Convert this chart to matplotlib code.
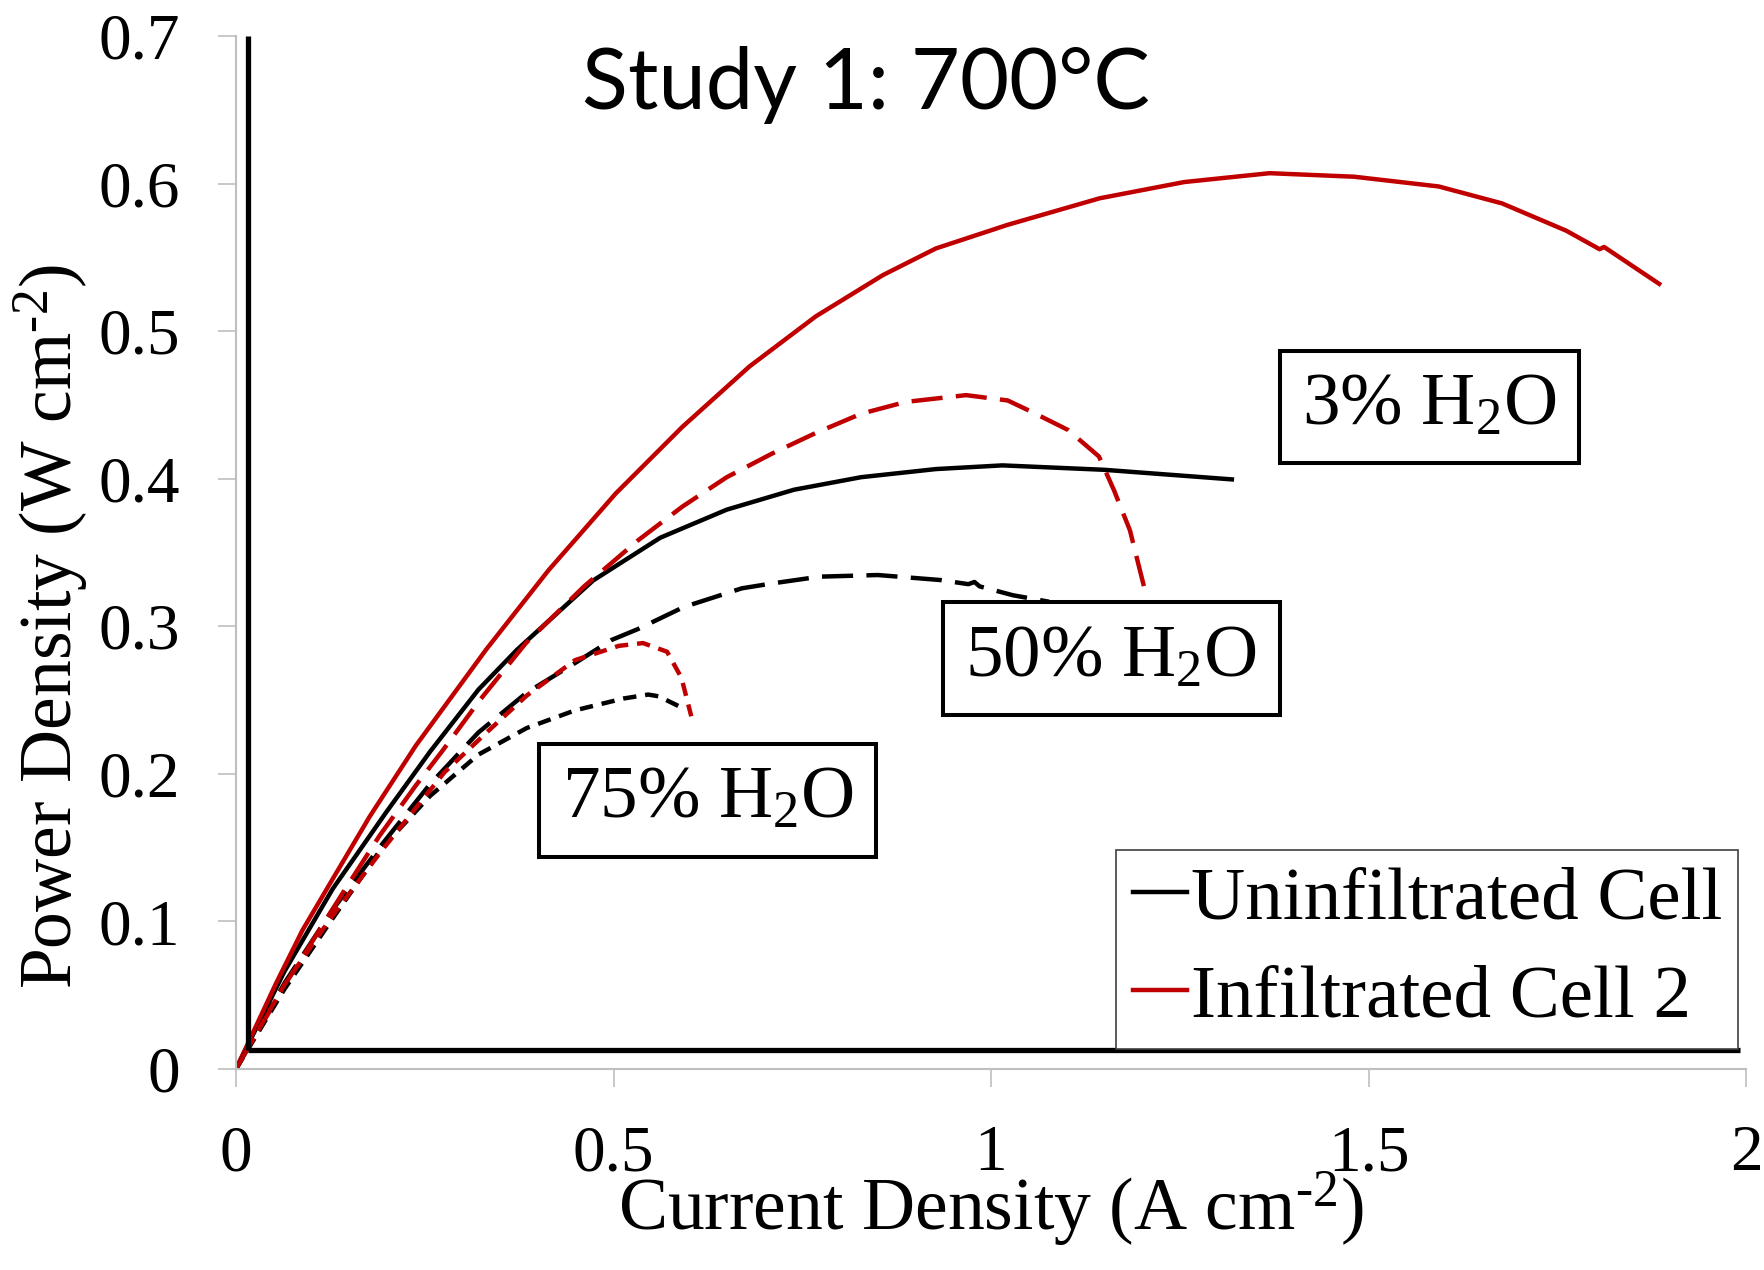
import matplotlib
matplotlib.use("Agg")
import matplotlib.pyplot as plt

plt.rcParams["font.family"] = ["Liberation Serif", "DejaVu Serif"]
plt.rcParams["mathtext.fontset"] = "custom"
plt.rcParams["mathtext.rm"] = "Liberation Serif"
plt.rcParams["mathtext.it"] = "Liberation Serif:italic"

RED = "#C00000"
GRAY = "#BFBFBF"

# ── data ──
# 3% H2O
inf_3_x = [0, 0.053, 0.088, 0.1325, 0.177, 0.238, 0.331, 0.414, 0.503, 0.591, 0.680, 0.768,
           0.857, 0.927, 1.022, 1.144, 1.256, 1.369, 1.481, 1.593, 1.677, 1.762, 1.806,
           1.812, 1.885]
inf_3_y = [0, 0.058, 0.094, 0.1326, 0.171, 0.219, 0.284, 0.338, 0.390, 0.435, 0.476, 0.510,
           0.538, 0.556, 0.572, 0.590, 0.601, 0.607, 0.6046, 0.598, 0.5865, 0.568, 0.5555,
           0.557, 0.532]
uninf_3_x = [0, 0.064, 0.128, 0.199, 0.257, 0.321, 0.372, 0.473, 0.562, 0.650, 0.739,
             0.828, 0.927, 1.015, 1.150, 1.319]
uninf_3_y = [0, 0.066, 0.122, 0.174, 0.215, 0.257, 0.284, 0.331, 0.360, 0.379, 0.3925,
             0.401, 0.4065, 0.409, 0.406, 0.3995]

# 50% H2O
inf_50_x = [0, 0.066, 0.146, 0.190, 0.238, 0.274, 0.323, 0.384, 0.461, 0.532, 0.591, 0.650,
            0.710, 0.768, 0.828, 0.887, 0.967, 1.022, 1.055, 1.102, 1.143, 1.163, 1.184,
            1.205]
inf_50_y = [0, 0.058, 0.123, 0.158, 0.192, 0.216, 0.250, 0.2886, 0.327, 0.358, 0.381, 0.401,
            0.417, 0.431, 0.444, 0.452, 0.4566, 0.453, 0.445, 0.433, 0.415, 0.392, 0.365,
            0.322]
uninf_50_x = [0, 0.064, 0.128, 0.193, 0.257, 0.321, 0.385, 0.452, 0.497, 0.532, 0.593,
              0.670, 0.710, 0.773, 0.850, 0.933, 0.970, 0.978, 0.985, 1.029, 1.077]
uninf_50_y = [0, 0.058, 0.108, 0.152, 0.193, 0.228, 0.255, 0.276, 0.2906, 0.298, 0.313,
              0.3257, 0.329, 0.3336, 0.3347, 0.3313, 0.3285, 0.330, 0.327, 0.321, 0.3166]

# 75% H2O
inf_75_x = [0, 0.064, 0.128, 0.193, 0.276, 0.334, 0.385, 0.449, 0.507, 0.539, 0.571,
            0.590, 0.603]
inf_75_y = [0, 0.057, 0.104, 0.148, 0.201, 0.229, 0.253, 0.277, 0.2867, 0.2886, 0.2827,
            0.265, 0.239]
uninf_75_x = [0, 0.064, 0.128, 0.193, 0.257, 0.321, 0.385, 0.449, 0.513, 0.546, 0.560,
              0.571, 0.587]
uninf_75_y = [0, 0.054, 0.102, 0.1497, 0.185, 0.213, 0.231, 0.243, 0.251, 0.2537, 0.2525,
              0.2497, 0.2457]

x_ticks = [0, 0.5, 1, 1.5, 2]
x_tick_labels = ["0", "0.5", "1", "1.5", "2"]
y_ticks = [0, 0.1, 0.2, 0.3, 0.4, 0.5, 0.6, 0.7]
y_tick_labels = ["0", "0.1", "0.2", "0.3", "0.4", "0.5", "0.6", "0.7"]

labels = [
    ("3% H$_\\mathregular{2}$O", 1.581, 0.4485),
    ("50% H$_\\mathregular{2}$O", 1.159, 0.278),
    ("75% H$_\\mathregular{2}$O", 0.625, 0.182),
]

# inner black frame of the original chart
FRAME_X = 0.016
FRAME_Y = 0.013

fig = plt.figure(figsize=(17.64, 12.70), dpi=100)
ax = fig.add_axes([0.1338, 0.1583, 0.9898 - 0.1338, 0.9717 - 0.1583])

LW = 3.2
long_dash = (0, (7, 3))
short_dash = (0, (3, 2))
kw = dict(lw=LW, solid_joinstyle="round", dash_joinstyle="round")

ax.plot(uninf_3_x, uninf_3_y, color="black", label="Uninfiltrated Cell", **kw)
ax.plot(inf_3_x, inf_3_y, color=RED, label="Infiltrated Cell 2", **kw)
ax.plot(uninf_50_x, uninf_50_y, color="black", ls=long_dash, **kw)
ax.plot(inf_50_x, inf_50_y, color=RED, ls=long_dash, **kw)
ax.plot(uninf_75_x, uninf_75_y, color="black", ls=short_dash, **kw)
ax.plot(inf_75_x, inf_75_y, color=RED, ls=short_dash, **kw)

ax.plot([FRAME_X, FRAME_X], [FRAME_Y, 0.7], color="black", lw=3.8, solid_capstyle="butt",
        clip_on=False)
ax.plot([FRAME_X, 1.992], [FRAME_Y, FRAME_Y], color="black", lw=3.8, solid_capstyle="butt",
        clip_on=False)

ax.set_xlim(0, 2)
ax.set_ylim(0, 0.7)
ax.set_xticks(x_ticks, x_tick_labels)
ax.set_yticks(y_ticks, y_tick_labels)
ax.tick_params(axis="both", labelsize=47, length=13, width=1.2, color=GRAY, pad=27)

for side in ["top", "right"]:
    ax.spines[side].set_visible(False)
for side in ["left", "bottom"]:
    ax.spines[side].set_color(GRAY)
    ax.spines[side].set_linewidth(1.5)

ax.set_xlabel("Current Density (A cm$^{\\text{-2}}$)", fontsize=53)
ax.set_ylabel("Power Density (W cm$^{\\text{-2}}$)", fontsize=53)
ax.xaxis.set_label_coords(0.5, -0.097)
ax.yaxis.set_label_coords(-0.097, 0.428)

for txt, x, y in labels:
    ax.text(x, y, txt, fontsize=54, ha="center", va="center",
            bbox=dict(boxstyle="square,pad=0.3", fc="white", ec="black", lw=2.9))

ax.text(0.834, 0.667, "Study 1: 700°C", fontsize=61, ha="center", va="center",
        family=["Lato", "DejaVu Sans"])

leg = ax.legend(loc="lower right", bbox_to_anchor=(0.995, 0.0194), fontsize=54,
                frameon=True, fancybox=False, edgecolor="#404040", framealpha=1,
                handlelength=0.72, handletextpad=0.05, labelspacing=0.39,
                borderpad=0.22, borderaxespad=0)
leg.get_frame().set_linewidth(1.2)

fig.savefig("out.png", dpi=100)
